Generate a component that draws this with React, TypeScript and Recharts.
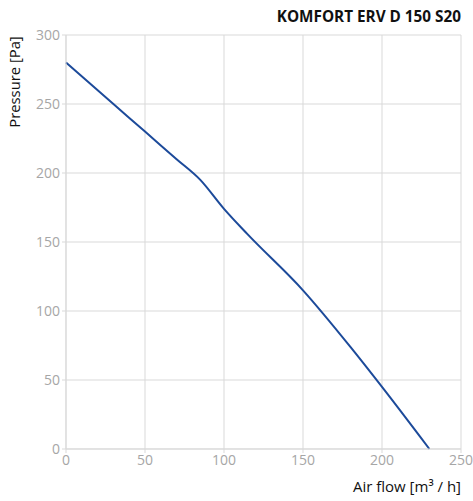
import React from "react";
import {
  LineChart,
  Line,
  XAxis,
  YAxis,
  CartesianGrid,
} from "recharts";

// Air flow [m³/h] vs pressure [Pa]
const airFlow = [0, 30, 50, 70, 85, 100, 115, 150, 180, 200, 230];
const pressure = [280, 250, 230, 210, 195, 174, 155.5, 115, 74, 45, 0];

const xTicks = [0, 50, 100, 150, 200, 250];
const yTicks = [0, 50, 100, 150, 200, 250, 300];

const data = airFlow.map((x, i) => ({ x, y: pressure[i] }));

const font = "'Open Sans', 'Noto Sans', sans-serif";
const gridColor = "#d9d9d9";
const tickColor = "#a6a6a6";

export default function App() {
  return (
    <div style={{ position: "relative", width: 473, height: 501, fontFamily: font }}>
      <style>{`body { margin: 0; }`}</style>
      <LineChart
        width={473}
        height={501}
        data={data}
        margin={{ top: 35, right: 12, left: 26, bottom: 27 }}
      >
        <CartesianGrid stroke={gridColor} strokeWidth={1} />
        <XAxis
          dataKey="x"
          type="number"
          domain={[0, 250]}
          ticks={xTicks}
          height={25}
          axisLine={{ stroke: gridColor }}
          tickLine={{ stroke: gridColor }}
          tickSize={4}
          tick={{ fill: tickColor, fontSize: 14, fontFamily: font }}
        />
        <YAxis
          dataKey="y"
          type="number"
          domain={[0, 300]}
          ticks={yTicks}
          width={40}
          axisLine={{ stroke: gridColor }}
          tickLine={{ stroke: gridColor }}
          tickSize={4}
          tick={{ fill: tickColor, fontSize: 14, fontFamily: font }}
        />
        <Line
          dataKey="y"
          type="monotone"
          stroke="#1c4a9a"
          strokeWidth={2}
          dot={false}
          isAnimationActive={false}
        />
      </LineChart>
      <div
        style={{
          position: "absolute",
          right: 12,
          top: 6,
          fontSize: 15.3,
          fontWeight: 700,
          color: "#111",
        }}
      >
        KOMFORT ERV D 150 S20
      </div>
      <div
        style={{
          position: "absolute",
          left: 14,
          top: 82,
          transform: "translate(-50%, -50%) rotate(-90deg)",
          fontSize: 14.8,
          color: "#111",
          whiteSpace: "nowrap",
        }}
      >
        Pressure [Pa]
      </div>
      <div
        style={{
          position: "absolute",
          right: 12,
          top: 476,
          fontSize: 15,
          color: "#111",
          whiteSpace: "nowrap",
        }}
      >
        Air flow [m³ / h]
      </div>
    </div>
  );
}
